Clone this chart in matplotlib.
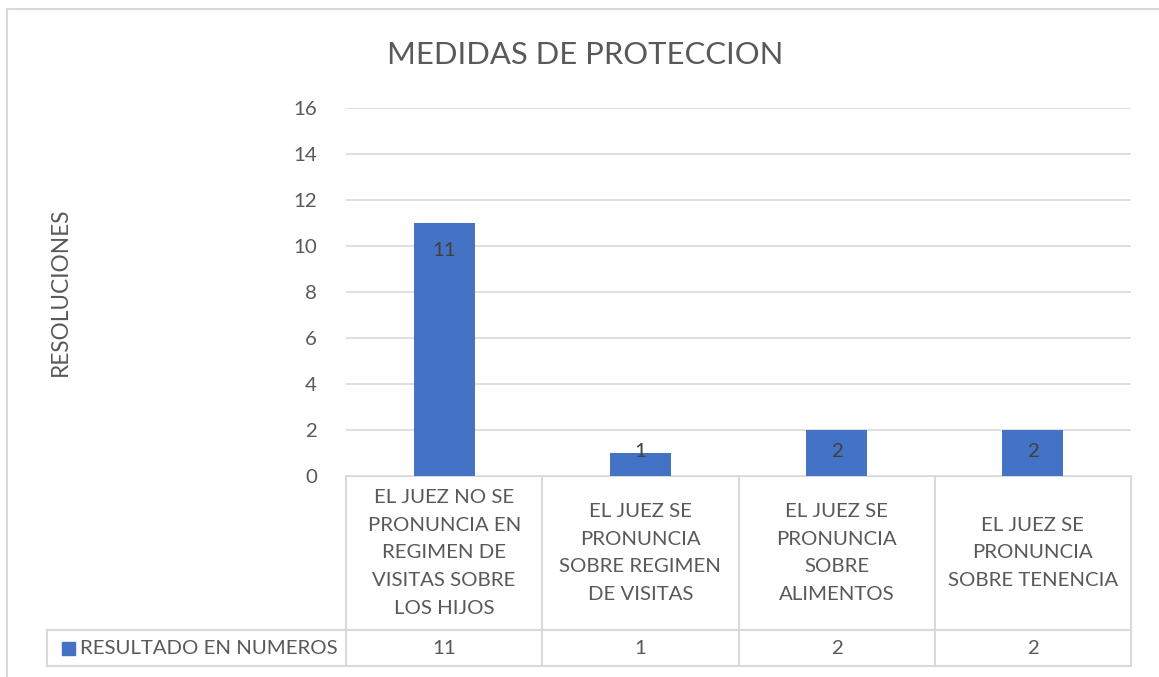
import matplotlib.pyplot as plt
import matplotlib.transforms as mtransforms

# ---- Data ----
categories = [
    "EL JUEZ NO SE\nPRONUNCIA EN\nREGIMEN DE\nVISITAS SOBRE\nLOS HIJOS",
    "EL JUEZ SE\nPRONUNCIA\nSOBRE REGIMEN\nDE VISITAS",
    "EL JUEZ SE\nPRONUNCIA\nSOBRE\nALIMENTOS",
    "EL JUEZ SE\nPRONUNCIA\nSOBRE TENENCIA",
]
values = [11, 1, 2, 2]
series_name = "RESULTADO EN NUMEROS"
title = "MEDIDAS DE PROTECCION"
y_label = "RESOLUCIONES"
y_ticks = [0, 2, 4, 6, 8, 10, 12, 14, 16]

BLUE = "#4472C4"
TEXT = "#595959"
GRID = "#D9D9D9"
FS = 14.7

plt.rcParams['font.family'] = ['Lato', 'DejaVu Sans']

W, H = 1159, 677
fig = plt.figure(figsize=(W / 100, H / 100), dpi=100)

# overlay in pixel coords for the table / border
over = fig.add_axes([0, 0, 1, 1])
over.set_xlim(0, W)
over.set_ylim(H, 0)
over.axis("off")

# plot area
left, right, top, bottom = 346, 1131, 108, 476
ax = fig.add_axes([left / W, 1 - bottom / H, (right - left) / W, (bottom - top) / H])
x = range(len(values))
ax.bar(x, values, width=0.31, color=BLUE, zorder=3)
ax.set_xlim(-0.5, len(values) - 0.5)
ax.set_ylim(0, 16)
ax.set_yticks(y_ticks)
ax.set_xticks([])
ax.tick_params(axis="y", length=0, pad=21, labelsize=FS, labelcolor=TEXT)
ax.grid(axis="y", color=GRID, linewidth=1.2, zorder=0)
for s in ax.spines.values():
    s.set_visible(False)

# data labels (inside end)
for i, v in enumerate(values):
    ax.text(i, max(v - 1.2, 1.08), str(v), ha="center", va="center",
            fontsize=FS, color="#404040", zorder=4)

# title and axis label
over.text(585, 55, title, ha="center", va="center", fontsize=22.3, color=TEXT)
over.text(60, 292, y_label, ha="center", va="center", rotation=90,
          fontsize=16.3, color=TEXT)

# chart border
over.plot([7, 7, W + 5], [H + 5, 9, 9], color=GRID, linewidth=1.5)

# data table
blend = mtransforms.blended_transform_factory(ax.transData, over.transData)
row_top, row_mid, row_bot = 476, 630, 666
lc = dict(color=GRID, linewidth=1.5, zorder=5)
over.plot([left, right], [row_top, row_top], **lc)
over.plot([47, right], [row_mid, row_mid], **lc)
over.plot([47, right], [row_bot, row_bot], **lc)
over.plot([47, 47], [row_mid, row_bot], **lc)
for b in [i - 0.5 for i in range(len(values) + 1)]:
    over.plot([b, b], [row_top, row_bot], transform=blend, **lc)

for i, (cat, v) in enumerate(zip(categories, values)):
    over.text(i, (row_top + row_mid) / 2, cat, transform=blend,
              ha="center", va="center", fontsize=FS, color=TEXT,
              linespacing=1.76)
    over.text(i, (row_mid + row_bot) / 2, str(v), transform=blend,
              ha="center", va="center", fontsize=FS, color=TEXT)

over.add_patch(plt.Rectangle((62, 642), 13, 13, color=BLUE))
over.text(80, (row_mid + row_bot) / 2, series_name, ha="left", va="center",
          fontsize=FS, color=TEXT)

fig.savefig("out.png", dpi=100)
